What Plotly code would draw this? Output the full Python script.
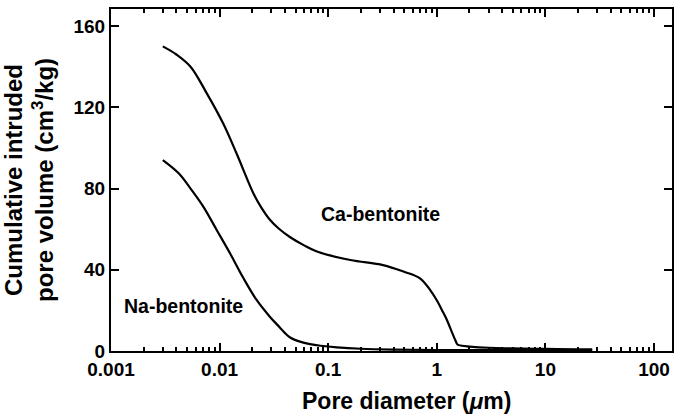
import math
import plotly.graph_objects as go

# Ca-bentonite: pore diameter (um) and cumulative intruded pore volume (cm3/kg)
ca_diameter = [0.003, 0.004, 0.0054, 0.0076, 0.0108, 0.0144, 0.0205, 0.024, 0.0292,
               0.035, 0.0447, 0.06, 0.0787, 0.16, 0.32, 0.5, 0.7, 0.87, 1.0, 1.12,
               1.24, 1.36, 1.48, 1.55, 1.7, 2.0, 3.0, 5.0, 10.0, 20.0, 27.0]
ca_volume = [150, 146, 140, 127, 112, 97, 77.6, 71, 64.5,
             60.3, 56, 52, 49, 44.8, 42.3, 39, 35.8, 30, 25, 20,
             15.3, 10, 5.4, 3.2, 2.6, 2.2, 1.6, 1.3, 1.0, 0.8, 0.8]

# Na-bentonite
na_diameter = [0.003, 0.0042, 0.0054, 0.0071, 0.0094, 0.0125, 0.0166, 0.022, 0.029,
               0.036, 0.04, 0.045, 0.055, 0.068, 0.085, 0.12, 0.2, 0.4, 1.0, 3.0,
               10.0, 27.0]
na_volume = [94, 87.5, 80, 71, 59.6, 48, 35.8, 25, 16.9,
             11.5, 8.8, 6.5, 4.6, 3.4, 2.6, 1.8, 1.1, 0.7, 0.5, 0.4,
             0.4, 0.3]

x_tickvals = [0.001, 0.01, 0.1, 1, 10, 100]
x_ticktext = ["0.001", "0.01", "0.1", "1", "10", "100"]
y_tickvals = [0, 40, 80, 120, 160]

# label anchor positions (data units)
ca_label_pos = (0.0826, 67.5)
na_label_pos = (0.00126, 22.2)

FONT = "Liberation Sans"

fig = go.Figure()
fig.add_trace(go.Scatter(x=ca_diameter, y=ca_volume, mode="lines",
                         line=dict(color="black", width=2.2, shape="spline", smoothing=1.0),
                         name="Ca-bentonite", showlegend=False))
fig.add_trace(go.Scatter(x=na_diameter, y=na_volume, mode="lines",
                         line=dict(color="black", width=2.2, shape="spline", smoothing=1.0),
                         name="Na-bentonite", showlegend=False))

fig.update_layout(
    width=677, height=419,
    margin=dict(l=111, r=5, t=9, b=68, autoexpand=False),
    paper_bgcolor="white", plot_bgcolor="white",
    font=dict(family=FONT, color="black"),
    xaxis=dict(
        type="log", range=[-3, 2.166], automargin=False,
        tickvals=x_tickvals, ticktext=x_ticktext,
        showline=True, linecolor="black", linewidth=2, mirror="ticks",
        ticks="inside", ticklen=8, tickwidth=2, tickcolor="black",
        minor=dict(ticks="inside", ticklen=4, tickwidth=1.5, tickcolor="black", dtick="D1", showgrid=False),
        showgrid=False, zeroline=False,
        tickfont=dict(family=FONT, size=19, color="black", weight="bold"),
    ),
    yaxis=dict(
        range=[0, 168.4], automargin=False,
        tickvals=y_tickvals,
        showline=True, linecolor="black", linewidth=2, mirror="ticks",
        ticks="inside", ticklen=8, tickwidth=2, tickcolor="black",
        showgrid=False, zeroline=False,
        tickfont=dict(family=FONT, size=19, color="black", weight="bold"),
    ),
    annotations=[
        dict(text="Ca-bentonite", x=math.log10(ca_label_pos[0]), y=ca_label_pos[1],
             xref="x", yref="y", showarrow=False, xanchor="left", yanchor="middle",
             font=dict(family=FONT, size=19.5, color="black", weight="bold")),
        dict(text="Na-bentonite", x=math.log10(na_label_pos[0]), y=na_label_pos[1],
             xref="x", yref="y", showarrow=False, xanchor="left", yanchor="middle",
             font=dict(family=FONT, size=19.5, color="black", weight="bold")),
        dict(text="Pore diameter (<i>μ</i>m)", x=(406 - 111) / 561, y=-0.145,
             xref="paper", yref="paper", showarrow=False, xanchor="center", yanchor="middle",
             font=dict(family=FONT, size=23, color="black", weight="bold")),
        dict(text="Cumulative intruded<br>pore volume (cm<sup>3</sup>/kg)",
             x=(29 - 111) / 561, y=0.5, xref="paper", yref="paper",
             showarrow=False, xanchor="center", yanchor="middle", textangle=-90,
             font=dict(family=FONT, size=24, color="black", weight="bold")),
    ],
)

fig.write_html("out.html", config={"displayModeBar": False},
               post_script="document.body.style.margin='0';document.body.style.padding='0';")
